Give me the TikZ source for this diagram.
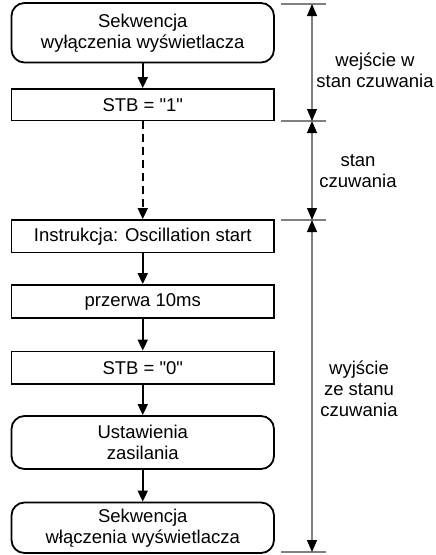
\documentclass[tikz,border=0pt]{standalone}
\usepackage{fontspec}
\setmainfont{Liberation Sans}
\usetikzlibrary{arrows.meta}
\begin{document}
\begin{tikzpicture}[x=1pt,y=-1pt,
  txt/.style={font=\fontsize{18.5}{21}\selectfont},
  box/.style={txt, draw, line width=1.8pt, minimum width=262.5pt, inner sep=0pt, align=center},
  rbox/.style={box, rounded corners=13pt},
  flow/.style={line width=1.8pt, -{Triangle[length=11pt,width=10pt]}},
  dim/.style={draw=gray, line width=1.1pt, {Triangle[length=12pt,width=10pt,color=black]}-{Triangle[length=12pt,width=10pt,color=black]}},
  ticks/.style={draw=gray, line width=1.1pt},
  lbl/.style={txt, align=center, inner sep=0pt}]
\useasboundingbox (0,0) rectangle (436,555);
% boxes
\node[rbox, minimum height=59.5pt] (b1) at (142.75,32.75) {Sekwencja\\wyłączenia wyświetlacza};
\node[box, minimum height=31.5pt] (b2) at (142.75,104.75) {STB = \textquotedbl 1\textquotedbl};
\node[box, minimum height=32.5pt] (b3) at (142.75,236.25) {Instrukcja: Oscillation start};
\node[box, minimum height=33pt] (b4) at (142.75,301.5) {przerwa 10ms};
\node[box, minimum height=32.5pt] (b5) at (142.75,367.75) {STB = \textquotedbl 0\textquotedbl};
\node[rbox, minimum height=53pt] (b6) at (142.75,442.5) {Ustawienia\\zasilania};
\node[rbox, minimum height=50.5pt] (b7) at (142.75,527.75) {Sekwencja\\włączenia wyświetlacza};
% connectors
\draw[flow] (b1) -- (b2);
\draw[flow, dash pattern=on 8pt off 5pt] (b2) -- (b3);
\draw[flow] (b3) -- (b4);
\draw[flow] (b4) -- (b5);
\draw[flow] (b5) -- (b6);
\draw[flow] (b6) -- (b7);
% dimension marks
\coordinate (t1) at (312,4);
\coordinate (t2) at (312,121);
\coordinate (t3) at (312,220);
\coordinate (t4) at (312,552);
\foreach \t in {t1,t2,t3,t4}
  \draw[ticks] ([xshift=-31pt]\t) -- ([xshift=14pt]\t);
\draw[dim] (t1) -- (t2);
\draw[dim] (t2) -- (t3);
\draw[dim] (t3) -- (t4);
% labels
\node[lbl] (l1) at (375,70) {wejście w\\stan czuwania};
\node[lbl] (l2) at (358,171) {stan\\czuwania};
\node[lbl] (l3) at (359,389) {wyjście\\ze stanu\\czuwania};
\end{tikzpicture}
\end{document}
